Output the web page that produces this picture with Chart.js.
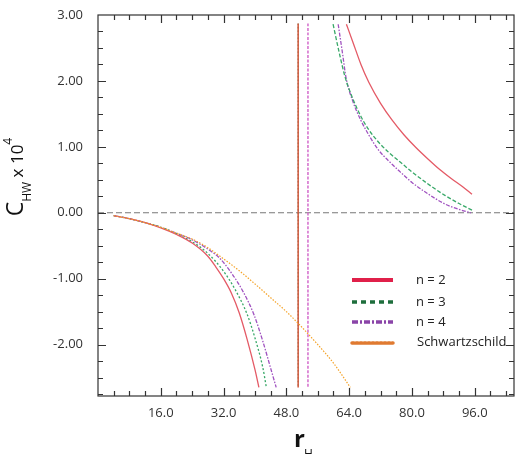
<!DOCTYPE html>
<html>
<head>
<meta charset="utf-8">
<script src="https://cdn.jsdelivr.net/npm/chart.js@4"></script>
<style>
  html, body { margin: 0; padding: 0; background: #fff; }
  #wrap { width: 521px; height: 454px; }
</style>
</head>
<body>
<div id="wrap"><canvas id="chwChart" width="521" height="454"></canvas></div>
<script>
// ============================================
// DATA
// ============================================
const seriesNames = ['n = 2', 'n = 3', 'n = 4', 'Schwartzschild'];

// negative branches (r_H < pole)
const rN2Neg = [4, 8, 12, 16, 20, 24, 28, 30, 32, 34, 36, 38, 40, 41];
const cN2Neg = [-0.045, -0.09, -0.15, -0.23, -0.33, -0.46, -0.66, -0.82, -1.0, -1.22, -1.52, -1.92, -2.38, -2.65];
const rN3Neg = [4, 8, 12, 16, 20, 24, 27.3, 30, 32.5, 35, 38, 40, 42, 42.9];
const cN3Neg = [-0.045, -0.09, -0.15, -0.22, -0.32, -0.44, -0.58, -0.74, -0.93, -1.17, -1.54, -1.9, -2.35, -2.65];
const rN4Neg = [4, 8, 12, 16, 20, 24, 28.7, 31, 34.2, 37, 39.7, 42, 44, 45.4];
const cN4Neg = [-0.045, -0.09, -0.15, -0.22, -0.31, -0.41, -0.58, -0.69, -0.93, -1.2, -1.54, -1.95, -2.36, -2.65];
const rSchw = [4, 8, 12, 16, 20, 24, 28, 32, 36, 40, 44, 48, 52, 56, 60, 64.3];
const cSchw = [-0.045, -0.09, -0.15, -0.22, -0.31, -0.40, -0.53, -0.70, -0.88, -1.08, -1.29, -1.50, -1.74, -2.0, -2.28, -2.65];

// positive branches
const rN2Pos = [63.3, 65, 67, 69, 72, 75, 78, 81, 84, 87, 90, 93, 95.3];
const cN2Pos = [2.86, 2.58, 2.25, 1.98, 1.66, 1.40, 1.18, 0.99, 0.82, 0.66, 0.52, 0.39, 0.28];
const rN3Pos = [59.9, 61.5, 63, 65, 67, 69, 71.5, 74, 77, 80, 84, 88.5, 92, 95.3];
const cN3Pos = [2.86, 2.42, 2.05, 1.72, 1.46, 1.26, 1.07, 0.92, 0.77, 0.62, 0.44, 0.26, 0.14, 0.04];
const rN4Pos = [61.2, 62.3, 63.2, 65, 67, 69, 71.5, 74, 77, 80, 84, 88.5, 92, 95];
const cN4Pos = [2.86, 2.42, 2.05, 1.68, 1.40, 1.18, 0.95, 0.79, 0.62, 0.46, 0.29, 0.13, 0.05, 0.0];

// vertical asymptote lines
const rPoleA = [51, 51];
const rPoleB = [53.5, 53.5];
const cPole = [2.87, -2.65];

// axes
const xMin = 0, xMax = 106, xMajor = 16, xMinor = 4;
const yMin = -2.78, yMax = 3.0, yMajor = 1, yMinor = 0.25;

// ============================================
// HELPERS
// ============================================
const pts = (xs, ys) => xs.map((x, i) => ({ x: x, y: ys[i] }));

const lineCol = { n2: '#e45a66', n3: '#38a868', n4: '#a052c0', schw: '#f5a42a' };
const legCol = ['#e0204a', '#1e6e3c', '#8a44a8', '#e07a30'];
const legDash = [[], [5, 4], [6, 2, 2, 2], [2, 2]];

function ds(data, color, dash, width) {
  return {
    data: data,
    borderColor: color,
    borderWidth: width || 1.3,
    borderDash: dash,
    showLine: true,
    pointRadius: 0,
    fill: false,
    cubicInterpolationMode: 'monotone'
  };
}

// ============================================
// PLUGINS — inner ticks, frame, zero line, titles, legend
// ============================================
const framePlugin = {
  id: 'frame',
  beforeDatasetsDraw(chart) {
    const { ctx, chartArea: a, scales: { y } } = chart;
    const y0 = y.getPixelForValue(0);
    ctx.save();
    ctx.strokeStyle = '#777';
    ctx.lineWidth = 1;
    ctx.setLineDash([6, 3]);
    ctx.beginPath();
    ctx.moveTo(a.left, y0);
    ctx.lineTo(a.right, y0);
    ctx.stroke();
    ctx.restore();
  },
  afterDraw(chart) {
    const { ctx, chartArea: a, scales: { x, y } } = chart;
    ctx.save();
    ctx.strokeStyle = '#333';
    ctx.lineWidth = 1.2;
    ctx.strokeRect(a.left, a.top, a.right - a.left, a.bottom - a.top);

    ctx.beginPath();
    for (let v = xMin + xMinor; v < xMax; v += xMinor) {
      const px = Math.round(x.getPixelForValue(v)) + 0.5;
      const len = (v % xMajor === 0) ? 8 : 5;
      ctx.moveTo(px, a.bottom); ctx.lineTo(px, a.bottom - len);
      ctx.moveTo(px, a.top); ctx.lineTo(px, a.top + len);
    }
    for (let k = Math.ceil(yMin / yMinor); k * yMinor < yMax; k++) {
      const v = k * yMinor;
      const py = Math.round(y.getPixelForValue(v)) + 0.5;
      const len = (k % 4 === 0) ? 8 : 5;
      ctx.moveTo(a.left, py); ctx.lineTo(a.left + len, py);
      ctx.moveTo(a.right, py); ctx.lineTo(a.right - len, py);
    }
    ctx.stroke();

    // y title: C_HW x 10^4 (rotated)
    ctx.fillStyle = '#111';
    ctx.translate(23, 177);
    ctx.rotate(-Math.PI / 2);
    const parts = [
      { t: 'C', f: '23px "Open Sans"', dy: 0 },
      { t: 'HW', f: '12px "Open Sans"', dy: 8 },
      { t: ' x 10', f: '17px "Open Sans"', dy: 0 },
      { t: '4', f: '12px "Open Sans"', dy: -11 }
    ];
    let total = 0;
    parts.forEach(p => { ctx.font = p.f; p.w = ctx.measureText(p.t).width; total += p.w; });
    let cx = -total / 2;
    ctx.textBaseline = 'alphabetic';
    ctx.textAlign = 'left';
    parts.forEach(p => { ctx.font = p.f; ctx.fillText(p.t, cx, p.dy); cx += p.w; });
    ctx.setTransform(1, 0, 0, 1, 0, 0);

    // x title: r_H
    ctx.font = 'bold 24px "Open Sans"';
    ctx.fillText('r', 294, 447);
    ctx.font = '12px "Open Sans"';
    ctx.fillText('H', 304, 458);

    // legend inside plot
    const lx0 = 352, lx1 = 393;
    const ly = [280, 302, 322, 343];
    ctx.font = '13px "Open Sans"';
    ctx.textBaseline = 'middle';
    seriesNames.forEach((name, i) => {
      ctx.save();
      ctx.strokeStyle = legCol[i];
      ctx.lineWidth = i === 0 ? 4 : 3.5;
      ctx.setLineDash(legDash[i]);
      if (i === 3) ctx.lineCap = 'round';
      ctx.beginPath();
      ctx.moveTo(lx0, ly[i]); ctx.lineTo(lx1, ly[i]);
      ctx.stroke();
      ctx.restore();
      ctx.fillStyle = '#222';
      ctx.fillText(name, i === 3 ? 417 : 416, ly[i] - (i === 3 ? 1 : 0));
    });
    ctx.restore();
  }
};

// ============================================
// CHART
// ============================================
const chart = new Chart(document.getElementById('chwChart'), {
  type: 'scatter',
  data: {
    datasets: [
      ds(pts(rSchw, cSchw), lineCol.schw, [1.5, 1.5], 1.2),
      ds(pts(rN2Neg, cN2Neg), lineCol.n2, []),
      ds(pts(rN3Neg, cN3Neg), lineCol.n3, [2, 2]),
      ds(pts(rN4Neg, cN4Neg), lineCol.n4, [4, 1.5, 1.5, 1.5]),
      ds(pts(rN2Pos, cN2Pos), lineCol.n2, []),
      ds(pts(rN3Pos, cN3Pos), lineCol.n3, [4, 2]),
      ds(pts(rN4Pos, cN4Pos), lineCol.n4, [4, 1.5, 1.5, 1.5]),
      ds(pts(rPoleA, cPole), '#d0563a', [], 1.5),
      ds(pts(rPoleA, cPole), '#3c8a50', [1.5, 2], 1),
      ds(pts(rPoleB, cPole), '#d060c8', [3, 1.5], 1.4)
    ]
  },
  options: {
    responsive: false,
    animation: false,
    layout: { padding: { left: 0, top: 15, right: 7, bottom: 0 } },
    plugins: { legend: { display: false }, tooltip: { enabled: false } },
    scales: {
      x: {
        type: 'linear',
        min: xMin, max: xMax,
        afterFit(scale) { scale.height = 58; scale.paddingLeft = 0; scale.paddingRight = 0; },
        grid: { display: false, drawTicks: false },
        border: { display: false },
        ticks: {
          stepSize: xMajor,
          autoSkip: false,
          maxRotation: 0,
          padding: 9,
          color: '#333',
          font: { family: 'Open Sans', size: 13 },
          callback: v => (v > 0 && v % xMajor === 0) ? v.toFixed(1) : ''
        }
      },
      y: {
        type: 'linear',
        min: yMin, max: yMax,
        afterFit(scale) { scale.width = 98; scale.paddingTop = 0; scale.paddingBottom = 0; },
        grid: { display: false, drawTicks: false },
        border: { display: false },
        ticks: {
          stepSize: yMajor,
          autoSkip: false,
          padding: 15,
          color: '#333',
          font: { family: 'Open Sans', size: 13 },
          callback: v => Math.abs(v - Math.round(v)) < 1e-6 ? v.toFixed(2) : ''
        }
      }
    }
  },
  plugins: [framePlugin]
});
</script>
</body>
</html>
